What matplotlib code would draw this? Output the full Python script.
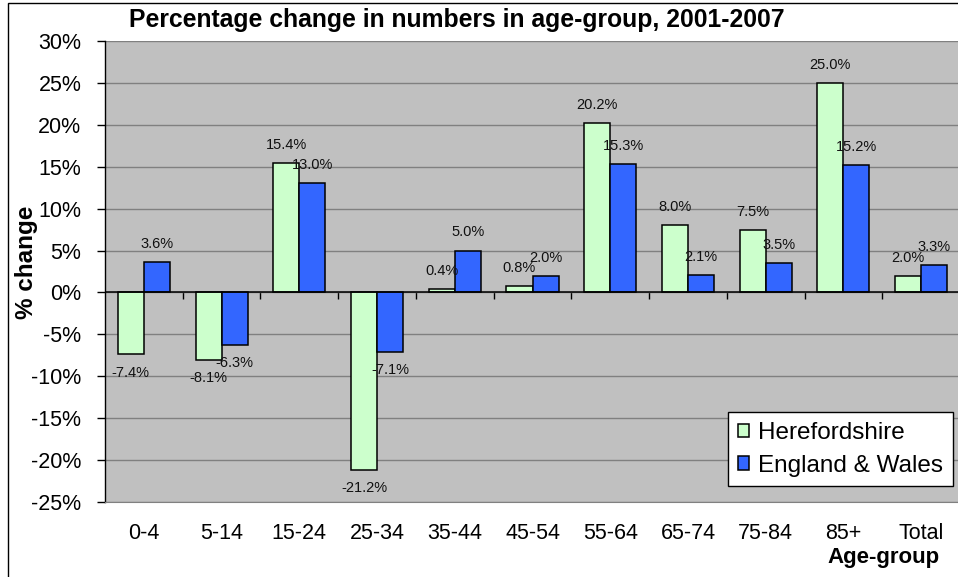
import numpy as np
import matplotlib
matplotlib.use("Agg")
import matplotlib.pyplot as plt
from matplotlib.patches import Rectangle
from matplotlib.ticker import FuncFormatter, FixedLocator, NullFormatter

plt.rcParams['font.family'] = ['Liberation Sans', 'DejaVu Sans']

categories = ["0-4", "5-14", "15-24", "25-34", "35-44", "45-54", "55-64",
              "65-74", "75-84", "85+", "Total"]
herefordshire = [-7.4, -8.1, 15.4, -21.2, 0.4, 0.8, 20.2, 8.0, 7.5, 25.0, 2.0]
england_wales = [3.6, -6.3, 13.0, -7.1, 5.0, 2.0, 15.3, 2.1, 3.5, 15.2, 3.3]
series_names = ["Herefordshire", "England & Wales"]
y_ticks = list(range(-25, 31, 5))

W, H = 958, 577
fig = plt.figure(figsize=(W / 100, H / 100), dpi=100)
fig.patch.set_facecolor("white")

# chart frame (cropped at right and bottom)
fig.patches.append(Rectangle((8.3 / W, -0.1), 2.0, 1.1 - 2.7 / H,
                             transform=fig.transFigure, fill=False,
                             edgecolor="black", linewidth=1.0))

left, right, top, bottom = 105, 960, 41, 502
ax = fig.add_axes([left / W, 1 - bottom / H, (right - left) / W, (bottom - top) / H])
ax.set_facecolor("#C0C0C0")

x = np.arange(len(categories))
w = 0.335
b1 = ax.bar(x - w / 2, herefordshire, w, color="#CCFFCC", edgecolor="black",
            linewidth=1.1, label=series_names[0], zorder=3)
b2 = ax.bar(x + w / 2, england_wales, w, color="#3366FF", edgecolor="black",
            linewidth=1.1, label=series_names[1], zorder=3)

for bars in (b1, b2):
    for r in bars:
        v = r.get_height()
        ax.annotate(f"{v:.1f}%", xy=(r.get_x() + r.get_width() / 2, v),
                    xytext=(0, 13 if v >= 0 else -13), textcoords="offset points",
                    ha="center", va="center", fontsize=10.5, color="#111111",
                    zorder=5)

ax.set_xlim(-0.5, len(categories) - 0.5)
ax.set_ylim(y_ticks[0], y_ticks[-1])
ax.set_yticks(y_ticks)
ax.yaxis.set_major_formatter(FuncFormatter(lambda v, p: f"{int(v)}%"))
ax.yaxis.grid(True, color="#808080", linewidth=1.0, zorder=1)
ax.set_axisbelow(True)

ax.set_xticks(x)
ax.set_xticklabels(categories)
ax.tick_params(axis="x", length=0, pad=15, labelsize=15.5)
ax.tick_params(axis="y", length=6, width=1, direction="out", pad=11,
               labelsize=15.5, color="black")

for s in ("top", "right"):
    ax.spines[s].set_visible(False)
ax.spines["bottom"].set_color("#808080")
ax.spines["left"].set_color("black")
ax.spines["left"].set_linewidth(1.0)

# zero axis line with category-boundary tick marks
ax.axhline(0, color="black", linewidth=1.1, zorder=4)
zero_frac = (0 - y_ticks[0]) / (y_ticks[-1] - y_ticks[0])
sec = ax.secondary_xaxis(zero_frac)
sec.spines["bottom"].set_visible(False)
sec.xaxis.set_major_locator(FixedLocator(list(np.arange(len(categories) - 1) + 0.5)))
sec.xaxis.set_major_formatter(NullFormatter())
sec.tick_params(axis="x", length=5, width=1, direction="out", color="black")

# title and axis labels
fig.text(457 / W, 1 - 20 / H, "Percentage change in numbers in age-group, 2001-2007",
         ha="center", va="center", fontsize=17.8, fontweight="bold")
fig.text(27 / W, 1 - 262 / H, "% change", rotation=90, ha="center", va="center",
         fontsize=17.5, fontweight="bold")
fig.text(940 / W, 1 - 563 / H, "Age-group", ha="right", va="baseline",
         fontsize=16, fontweight="bold")

leg = ax.legend(loc="upper right", bbox_to_anchor=(953 / W, 1 - 412 / H),
                bbox_transform=fig.transFigure, fontsize=17.5, frameon=True,
                fancybox=False, edgecolor="black", framealpha=1,
                handlelength=0.45, handleheight=0.45, handletextpad=0.4,
                labelspacing=0.45, borderpad=0.4, borderaxespad=0)
leg.get_frame().set_linewidth(1.0)
leg.set_zorder(10)

fig.savefig("out.png", dpi=100)
